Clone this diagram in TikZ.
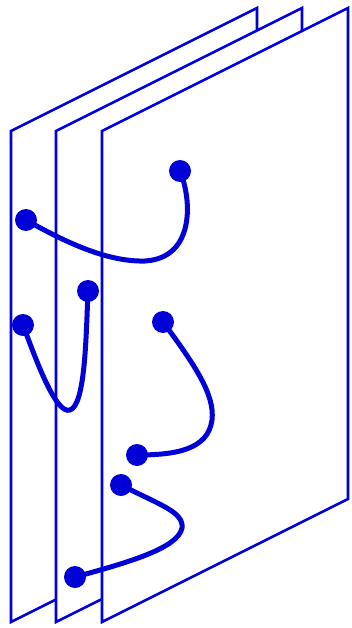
\documentclass[tikz,border=0pt]{standalone}
\begin{document}
\begin{tikzpicture}[x=1pt,y=-1pt,
  plane/.style={draw=myblue,fill=white,line width=2.6pt,line join=miter},
  link/.style={draw=myblue,line width=5pt,line cap=round},
  dot/.style={circle,fill=myblue,inner sep=0pt,minimum size=22pt}]
\definecolor{myblue}{RGB}{0,0,215}
\useasboundingbox (0,0) rectangle (351,628);
% planes
\foreach \x/\n in {11/p1,56/p2,102/p3}{
  \draw[plane] (\x,622) -- (\x,131) -- (\x+246,8) -- (\x+246,499) -- cycle;
}
% dots
\node[dot] (A) at (180,171) {};
\node[dot] (B) at (26,220) {};
\node[dot] (C) at (88,291) {};
\node[dot] (D) at (23,325) {};
\node[dot] (E) at (163,322) {};
\node[dot] (F) at (137,455) {};
\node[dot] (G) at (121,485) {};
\node[dot] (H) at (75,577) {};
\coordinate (ab) at (145,261);
\coordinate (cd) at (70,410);
\coordinate (ef) at (212,420);
\coordinate (gh) at (182,528);
% links
\draw[link] (B.center) .. controls (70,245) and (110,262) .. (ab)
   .. controls (195,258) and (192,200) .. (A.center);
\draw[link] (D.center) .. controls (36,360) and (56,415) .. (cd)
   .. controls (85,405) and (86,340) .. (C.center);
\draw[link] (E.center) .. controls (195,365) and (215,395) .. (ef)
   .. controls (208,450) and (175,455) .. (F.center);
\draw[link] (G.center) .. controls (160,505) and (184,512) .. (gh)
   .. controls (178,548) and (130,562) .. (H.center);
\end{tikzpicture}
\end{document}
